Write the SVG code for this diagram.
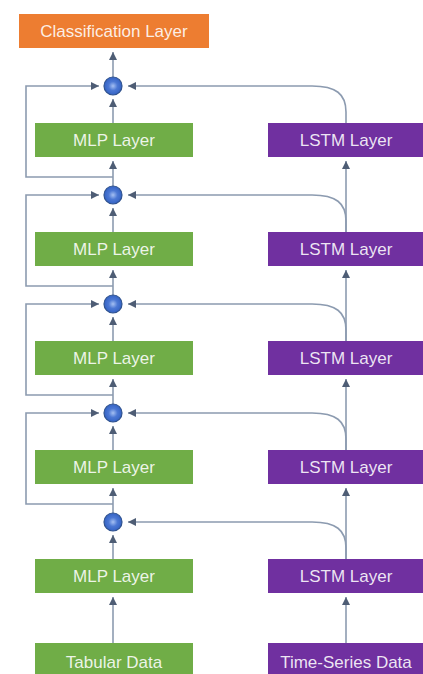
<svg xmlns="http://www.w3.org/2000/svg" width="423" height="674" viewBox="0 0 423 674">
  <style>
    .box-text { font-family: "Liberation Sans", Arial, sans-serif; font-size: 17px; fill: #ffffff; fill-opacity: 0.88; text-anchor: middle; }
    .mlp { fill: #70AD47; }
    .lstm { fill: #7030A0; }
    .cls { fill: #ED7D31; }
    .conn { fill: none; stroke: #8C9BB0; stroke-width: 1.6; }
    .arrow { marker-end: url(#ah); }
    .sum { fill: url(#sumFill); stroke: #2F528F; stroke-width: 1.2; }
  </style>
  <defs>
    <marker id="ah" viewBox="0 0 10 10" refX="10" refY="5" markerWidth="8" markerHeight="8" orient="auto" markerUnits="userSpaceOnUse">
      <path d="M0,0 L10,5 L0,10 z" fill="#4E5D75"/>
    </marker>
    <radialGradient id="sumFill" cx="0.5" cy="0.5" r="0.55">
      <stop offset="0" stop-color="#A5C0F2"/>
      <stop offset="0.45" stop-color="#4C78D4"/>
      <stop offset="1" stop-color="#2F5EC0"/>
    </radialGradient>
  </defs>
  <rect width="423" height="674" fill="#ffffff"/>

  <!-- connectors -->
  <g id="connectors">
    <!-- main MLP stack -->
    <path class="conn arrow" d="M113,77 V52"/>
    <path class="conn arrow" d="M113,123 V99"/>
    <path class="conn arrow" d="M113,186 V161"/>
    <path class="conn arrow" d="M113,232 V208"/>
    <path class="conn arrow" d="M113,295 V270"/>
    <path class="conn arrow" d="M113,341 V317"/>
    <path class="conn arrow" d="M113,404 V379"/>
    <path class="conn arrow" d="M113,450 V426"/>
    <path class="conn arrow" d="M113,513 V488"/>
    <path class="conn arrow" d="M113,559 V535"/>
    <path class="conn arrow" d="M113,643 V597"/>

    <!-- residual skips around each MLP layer -->
    <path class="conn arrow" d="M113,177 H26 V86 H99"/>
    <path class="conn arrow" d="M113,286 H26 V195 H99"/>
    <path class="conn arrow" d="M113,395 H26 V304 H99"/>
    <path class="conn arrow" d="M113,504 H26 V413 H99"/>

    <!-- LSTM stack -->
    <path class="conn arrow" d="M346,232 V161"/>
    <path class="conn arrow" d="M346,341 V270"/>
    <path class="conn arrow" d="M346,450 V379"/>
    <path class="conn arrow" d="M346,559 V488"/>
    <path class="conn arrow" d="M346,643 V597"/>

    <!-- LSTM outputs merged into the sum nodes -->
    <path class="conn arrow" d="M346,123 V112 C346,94 336,86 312,86 H128"/>
    <path class="conn arrow" d="M346,232 V221 C346,203 336,195 312,195 H128"/>
    <path class="conn arrow" d="M346,341 V330 C346,312 336,304 312,304 H128"/>
    <path class="conn arrow" d="M346,450 V439 C346,421 336,413 312,413 H128"/>
    <path class="conn arrow" d="M346,559 V548 C346,530 336,522 312,522 H128"/>
  </g>

  <!-- sum nodes -->
  <g id="sum1"><circle class="sum" cx="113" cy="86" r="9"/></g>
  <g id="sum2"><circle class="sum" cx="113" cy="195" r="9"/></g>
  <g id="sum3"><circle class="sum" cx="113" cy="304" r="9"/></g>
  <g id="sum4"><circle class="sum" cx="113" cy="413" r="9"/></g>
  <g id="sum5"><circle class="sum" cx="113" cy="522" r="9"/></g>

  <!-- output -->
  <g id="classification">
    <rect class="cls" x="19" y="14" width="190" height="34"/>
    <text class="box-text" x="114" y="37">Classification Layer</text>
  </g>

  <!-- MLP branch -->
  <g id="mlp1">
    <rect class="mlp" x="35" y="123" width="158" height="34"/>
    <text class="box-text" x="114" y="146">MLP Layer</text>
  </g>
  <g id="mlp2">
    <rect class="mlp" x="35" y="232" width="158" height="34"/>
    <text class="box-text" x="114" y="255">MLP Layer</text>
  </g>
  <g id="mlp3">
    <rect class="mlp" x="35" y="341" width="158" height="34"/>
    <text class="box-text" x="114" y="364">MLP Layer</text>
  </g>
  <g id="mlp4">
    <rect class="mlp" x="35" y="450" width="158" height="34"/>
    <text class="box-text" x="114" y="473">MLP Layer</text>
  </g>
  <g id="mlp5">
    <rect class="mlp" x="35" y="559" width="158" height="34"/>
    <text class="box-text" x="114" y="582">MLP Layer</text>
  </g>
  <g id="tabular">
    <rect class="mlp" x="35" y="643" width="158" height="36"/>
    <text class="box-text" x="114" y="668">Tabular Data</text>
  </g>

  <!-- LSTM branch -->
  <g id="lstm1">
    <rect class="lstm" x="268" y="123" width="156" height="34"/>
    <text class="box-text" x="346" y="146">LSTM Layer</text>
  </g>
  <g id="lstm2">
    <rect class="lstm" x="268" y="232" width="156" height="34"/>
    <text class="box-text" x="346" y="255">LSTM Layer</text>
  </g>
  <g id="lstm3">
    <rect class="lstm" x="268" y="341" width="156" height="34"/>
    <text class="box-text" x="346" y="364">LSTM Layer</text>
  </g>
  <g id="lstm4">
    <rect class="lstm" x="268" y="450" width="156" height="34"/>
    <text class="box-text" x="346" y="473">LSTM Layer</text>
  </g>
  <g id="lstm5">
    <rect class="lstm" x="268" y="559" width="156" height="34"/>
    <text class="box-text" x="346" y="582">LSTM Layer</text>
  </g>
  <g id="timeseries">
    <rect class="lstm" x="268" y="643" width="156" height="36"/>
    <text class="box-text" x="346" y="668">Time-Series Data</text>
  </g>
</svg>
